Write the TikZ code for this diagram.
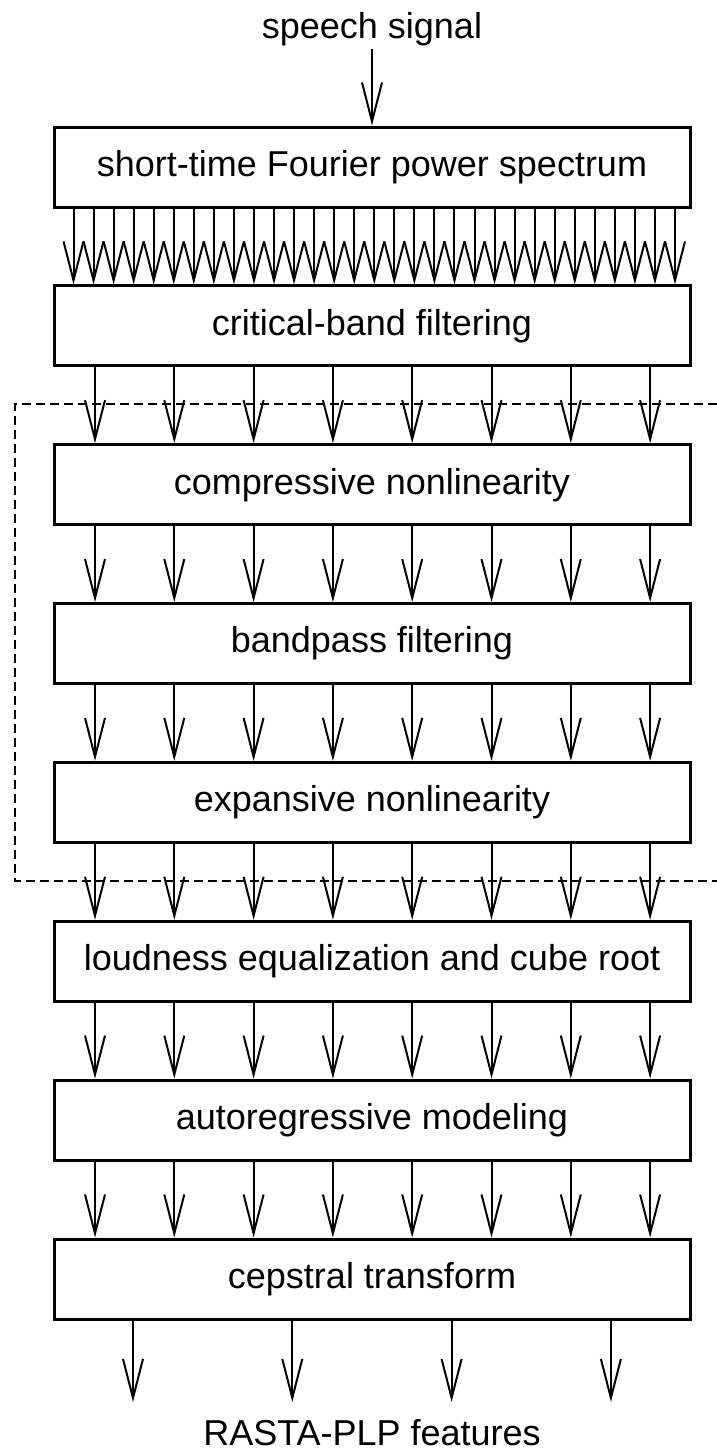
\documentclass[tikz,border=0pt]{standalone}
\usepackage{fontspec}
\setmainfont{Liberation Sans}
\usetikzlibrary{arrows.meta}
\begin{document}
\begin{tikzpicture}[x=0.5pt,y=-0.5pt,
  stage/.style={draw,line width=1.5pt,minimum width=318pt,minimum height=40pt,
    inner sep=0pt,font=\fontsize{18}{22}\selectfont},
  termtext/.style={inner sep=0pt,font=\fontsize{18}{22}\selectfont},
  flow/.style={line width=1pt,-{Straight Barb[length=19.5pt,width=10pt]}},
  feedback/.style={line width=0.75pt,dash pattern=on 4.5pt off 2.5pt}]
\useasboundingbox (0,0) rectangle (717,1452);

% processing stages
\node[stage] (spec) at (372,167)    {short-time Fourier power spectrum};
\node[stage] (crit) at (372,325.9)  {critical-band filtering};
\node[stage] (comp) at (372,484.7)  {compressive nonlinearity};
\node[stage] (band) at (372,643.6)  {bandpass filtering};
\node[stage] (expa) at (372,802.4)  {expansive nonlinearity};
\node[stage] (loud) at (372,961.3)  {loudness equalization and cube root};
\node[stage] (auto) at (372,1120.1) {autoregressive modeling};
\node[stage] (ceps) at (372,1279)   {cepstral transform};

% input and output labels
\node[termtext,anchor=base] (speech) at (372,38)   {speech signal};
\node[termtext,anchor=base] (feat)   at (372,1445) {RASTA-PLP features};

% RASTA filtering region
\draw[feedback] (717,404) -- (15,404) -- (15,881) -- (717,881);

% signal in
\draw[flow] ([yshift=-1.5pt]speech.south) -- (spec.north);

% spectrum bins into the critical-band filter
\foreach \k in {0,...,30} {
  \coordinate (fb\k) at ({73.5+20.05*\k},0);
  \draw[flow] (fb\k |- spec.south) -- (fb\k |- crit.north);
}

% critical-band channels through the chain
\foreach \k in {0,...,7} {
  \coordinate (ch\k) at ({95+79.3*\k},0);
}
\foreach \a/\b in {crit/comp,comp/band,band/expa,expa/loud,loud/auto,auto/ceps} {
  \foreach \k in {0,...,7} {
    \draw[flow] (ch\k |- \a.south) -- (ch\k |- \b.north);
  }
}

% cepstral outputs
\coordinate (outend) at (0,1402);
\foreach \k in {0,...,3} {
  \coordinate (cc\k) at ({133+159.3*\k},0);
  \draw[flow] (cc\k |- ceps.south) -- (cc\k |- outend);
}
\end{tikzpicture}
\end{document}
